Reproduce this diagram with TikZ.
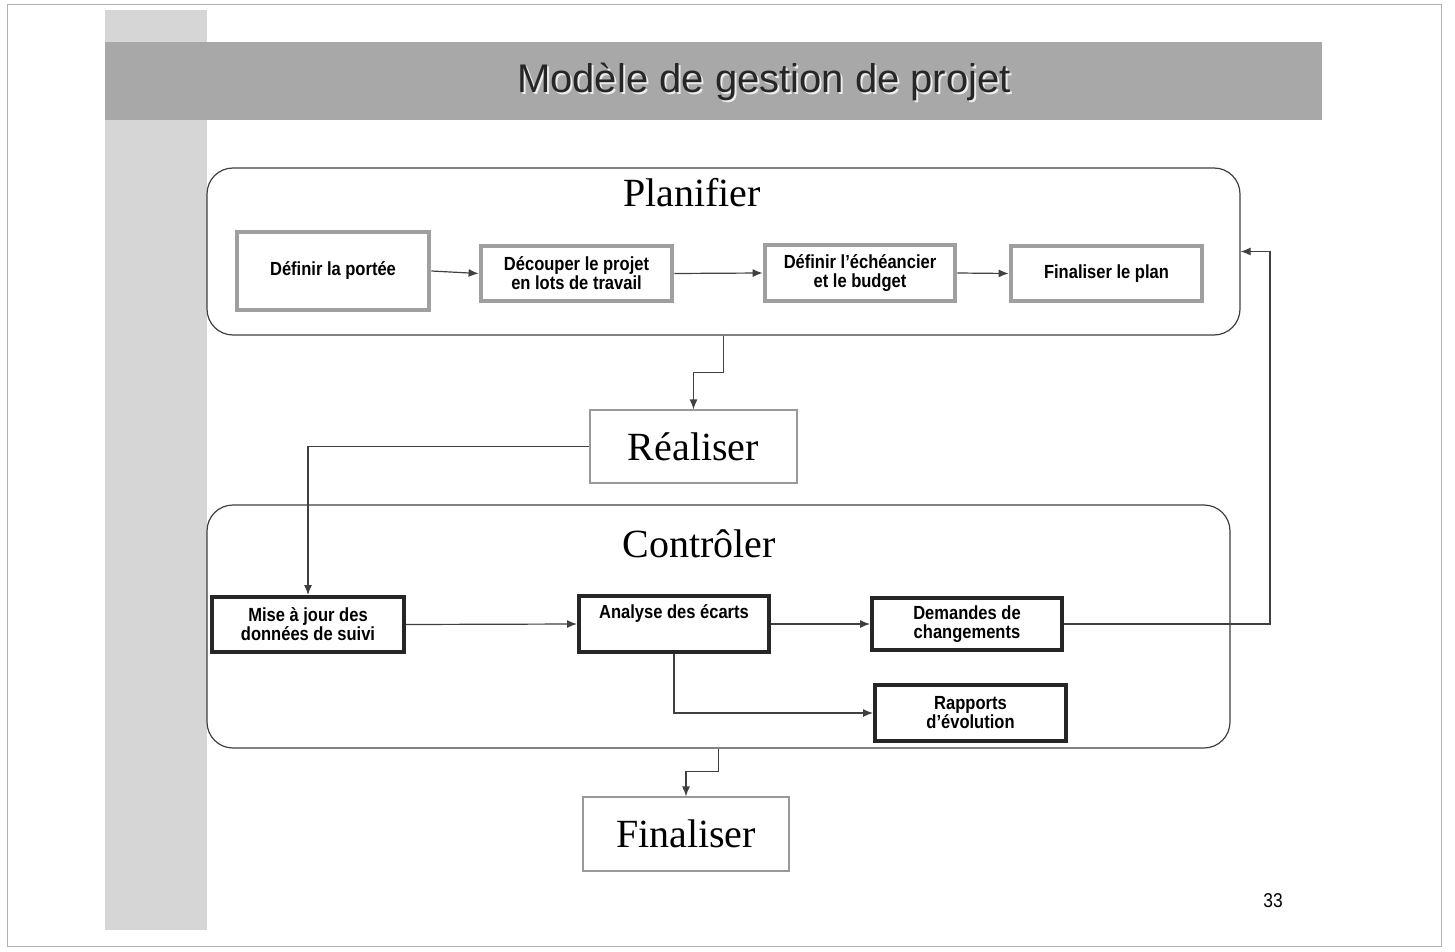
\documentclass[tikz,border=0pt]{standalone}
\usepackage{fontspec}
\setmainfont{Liberation Serif}
\newfontfamily\boxfont[FakeStretch=0.87]{Liberation Sans}
\newfontfamily\titlefont{Liberation Sans}
\usetikzlibrary{arrows.meta}
\definecolor{lineclr}{gray}{0.25}
\definecolor{bandclr}{gray}{0.84}
\definecolor{titleclr}{gray}{0.66}
\begin{document}
\begin{tikzpicture}[x=0.5pt,y=-0.5pt,
  container/.style={draw=lineclr, line width=0.6pt, rounded corners=13pt, inner sep=0pt},
  planbox/.style={draw=gray!75, line width=2.4pt, align=center, inner sep=0pt,
    font=\boxfont\bfseries\fontsize{9.5}{9.5}\selectfont},
  ctrlbox/.style={draw=black!85, line width=2pt, align=center, inner sep=0pt,
    font=\boxfont\bfseries\fontsize{9.5}{9.5}\selectfont},
  phasebox/.style={draw=gray!80, line width=0.6pt, inner sep=0pt,
    font=\fontsize{20}{20}\selectfont},
  heading/.style={font=\fontsize{20}{20}\selectfont, inner sep=0pt},
  arr/.style={draw=lineclr, line width=0.6pt, -{Latex[length=5pt,width=4pt]}}]
% canvas
\useasboundingbox (0,0) rectangle (1455,952);
\fill[white] (0,0) rectangle (1455,952);
\draw[gray!60, line width=0.5pt] (7,5) rectangle (1441,946);
% background bands
\fill[bandclr] (105,10) rectangle (207,930);
\fill[titleclr] (105,42) rectangle (1322,120);
\node[inner sep=0pt, text=white!85!gray, font=\titlefont\fontsize{20}{20}\selectfont] at (766,84) {Modèle de gestion de projet};
\node[inner sep=0pt, text=black!85, font=\titlefont\fontsize{20}{20}\selectfont] (title) at (764,82) {Modèle de gestion de projet};
% Planifier container
\node[container, minimum width=516.5pt, minimum height=83.5pt] (plan) at (723.5,251.5) {};
\node[heading] (planh) at (692,193) {Planifier};
\node[planbox, minimum width=96pt, minimum height=39pt] (def) at (333,271) {Définir la portée};
\node[planbox, minimum width=95.5pt, minimum height=27.5pt] (dec) at (576.5,273.5) {Découper le projet\\en lots de travail};
\node[planbox, minimum width=95pt, minimum height=28pt] (ech) at (860,273) {Définir l’échéancier\\et le budget};
\node[planbox, minimum width=95.5pt, minimum height=27.5pt] (fpl) at (1106.5,273.5) {Finaliser le plan};
\draw[arr] (def.east) -- (dec.west);
\draw[arr] (dec.east) -- (ech.west);
\draw[arr] (ech.east) -- (fpl.west);
% Réaliser
\node[phasebox, minimum width=103.5pt, minimum height=36.5pt] (real) at (693.5,446.5) {Réaliser};
\draw[arr] (plan.south) -- ++(0,37) -| (real.north);
% Contrôler container
\node[container, minimum width=511.5pt, minimum height=121.5pt] (ctrl) at (718.5,626.5) {};
\node[heading] (ctrlh) at (699,544) {Contrôler};
\node[ctrlbox, minimum width=96pt, minimum height=27.5pt] (mise) at (308,624.5) {Mise à jour des\\données de suivi};
\node[ctrlbox, minimum width=95pt, minimum height=28pt] (ana) at (674,624) {Analyse des écarts\\\strut};
\node[ctrlbox, minimum width=95pt, minimum height=26pt] (dem) at (967,624) {Demandes de\\changements};
\node[ctrlbox, minimum width=95.5pt, minimum height=28pt] (rap) at (970.5,713) {Rapports\\d’évolution};
\draw[arr] (real.west) -| (mise.north);
\draw[arr] (mise.east) -- (ana.west);
\draw[arr] (ana.east) -- (dem.west);
\draw[arr] (ana.south) |- (rap.west);
\coordinate (rc) at (1270,624);
\draw[arr] (dem.east) -- (rc) |- (plan.east);
% Finaliser
\node[phasebox, minimum width=103pt, minimum height=37pt] (fin) at (686,834) {Finaliser};
\draw[arr] (ctrl.south) -- ++(0,23) -| (fin.north);
% page number
\node[inner sep=0pt, font=\boxfont\fontsize{10}{10}\selectfont] (pg) at (1273,901) {33};
\end{tikzpicture}
\end{document}
